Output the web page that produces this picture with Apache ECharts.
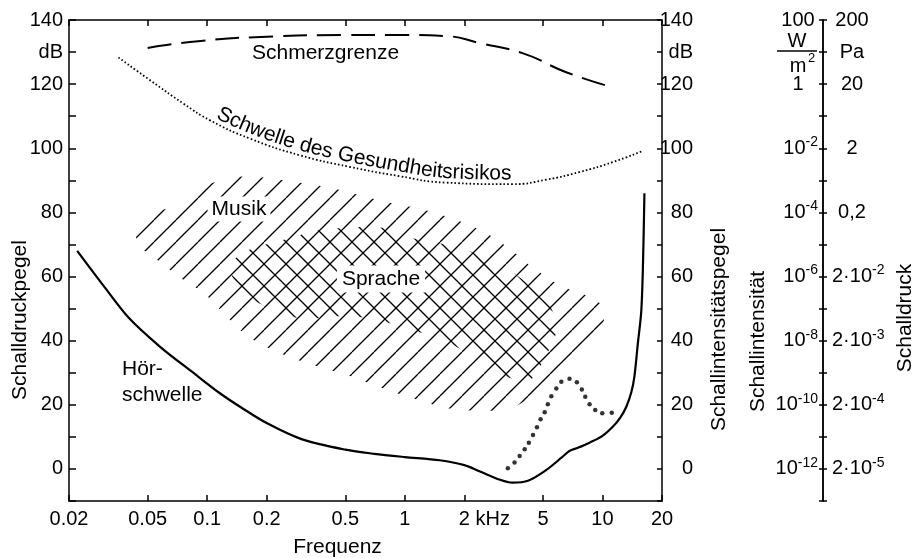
<!DOCTYPE html>
<html><head><meta charset="utf-8">
<script src="https://cdn.jsdelivr.net/npm/echarts@6/dist/echarts.min.js"></script>
<style>html,body{margin:0;padding:0;background:#fff}#c{width:914px;height:558px}</style>
</head><body><div id="c"></div>
<script>
// ---------- data ----------
const freqTicks = [0.02, 0.05, 0.1, 0.2, 0.5, 1, 2, 5, 10, 20];
const freqTickLabels = ['0.02', '0.05', '0.1', '0.2', '0.5', '1', '2 kHz', '5', '10', '20'];
const levelLabelValues = [0, 20, 40, 60, 80, 100, 120, 130, 140];
const levelLabels = ['0', '20', '40', '60', '80', '100', '120', 'dB', '140'];
const intensityLabelValues = [0, 20, 40, 60, 80, 100, 120, 140];
const intensityLabels = ['10^-12', '10^-10', '10^-8', '10^-6', '10^-4', '10^-2', '1', '100'];
const pressureLabelValues = [0, 20, 40, 60, 80, 100, 120, 130, 140];
const pressureLabels = ['2·10^-5', '2·10^-4', '2·10^-3', '2·10^-2', '0,2', '2', '20', 'Pa', '200'];

// Hörschwelle (kHz, dB)
const thresholdFreq = [0.022, 0.03, 0.04, 0.058, 0.085, 0.116, 0.15, 0.2, 0.3, 0.5, 0.7, 1, 1.5, 2, 2.4, 3, 3.5, 4.2, 5.2, 6.2, 6.8, 7.5, 8.6, 10, 11.3, 12.3, 13.2, 14, 14.5, 15.1, 15.7, 16.0, 16.3];
const thresholdLevel = [68, 57, 47.2, 38, 30, 23.6, 19, 14.3, 9.3, 6, 4.7, 3.7, 2.7, 1.2, -0.8, -3.3, -4.3, -3.7, -0.3, 3.5, 5.6, 6.6, 8.2, 10.3, 13.2, 16, 19.4, 24, 28.8, 39.2, 49, 62, 86];
// Schmerzgrenze
const painFreq = [0.05, 0.09, 0.2, 0.5, 1, 1.6, 2.4, 4, 6.5, 10.8];
const painLevel = [131.3, 133.4, 134.8, 135.3, 135.3, 135, 132.8, 129.5, 123.8, 119.3];
// Schwelle des Gesundheitsrisikos
const healthFreq = [0.0356, 0.0515, 0.076, 0.1035, 0.165, 0.295, 0.526, 0.94, 1.6, 3.5, 5.2, 7.65, 11.3, 16];
const healthLevel = [128.3, 121.2, 113.9, 108.7, 103, 97.8, 94.2, 91.3, 89.3, 88.8, 90.2, 92.6, 95.7, 99.2];
// dotted curve (individual dots)
const dotFreq = [3.32, 3.59, 3.81, 4.04, 4.24, 4.45, 4.66, 4.86, 5.10, 5.29, 5.51, 5.84, 6.19, 6.81, 7.42, 7.86, 8.18, 8.60, 9.19, 9.97, 11.14];
const dotLevel = [0.2, 2.0, 4.0, 6.1, 8.2, 10.6, 13.0, 15.5, 17.7, 20.2, 22.7, 25.1, 27.2, 28.1, 27.0, 24.8, 22.5, 20.2, 18.4, 17.4, 17.5];
// Musik area outline
const musikFreq = [0.0433, 0.0515, 0.0747, 0.090, 0.1307, 0.1707, 0.278, 0.433, 0.793, 1.218, 1.83, 2.69, 3.47, 4.43, 6.06, 9.33, 10.24, 8.80, 3.59, 2.63, 1.63, 1.085, 0.748, 0.509, 0.343, 0.2337, 0.165, 0.126, 0.0977, 0.0714, 0.0528, 0.0459];
const musikLevel = [75.1, 79.8, 82.2, 87.2, 90.7, 91.1, 89.5, 87.5, 83.3, 81.0, 77.6, 72.9, 68.2, 62.9, 57.3, 52.6, 48.0, 36.4, 19.3, 18.1, 19.0, 22.1, 25.5, 29.3, 32.4, 36.1, 40.8, 47.4, 54.5, 60.1, 66.4, 69.2];
// Sprache area outline
const spracheFreq = [0.1337, 0.161, 0.239, 0.372, 0.572, 0.748, 1.085, 1.50, 2.08, 3.47, 4.43, 5.40, 5.86, 5.10, 4.28, 3.20, 2.39, 1.63, 1.098, 0.793, 0.528, 0.343, 0.272, 0.179, 0.147, 0.1337];
const spracheLevel = [64.5, 68.2, 71.3, 74.5, 75.4, 75.4, 72.0, 70.4, 68.2, 61.4, 56.4, 51.1, 43.3, 34.6, 27.7, 29.0, 34.0, 39.6, 43.3, 45.8, 47.7, 47.0, 47.4, 52.0, 56.4, 60.1];

// ---------- helpers ----------
const FF = "'Liberation Sans', Arial, sans-serif";
const L = Math.log10;
const pairs = (fs, ls) => fs.map((f, i) => [L(f), ls[i]]);
function hatch(dir) {
  const s = 22, c = document.createElement('canvas');
  c.width = c.height = s;
  const ctx = c.getContext('2d');
  ctx.strokeStyle = '#000'; ctx.lineWidth = 1.3;
  for (let k = -1; k <= 1; k++) {
    ctx.beginPath();
    if (dir === '/') { ctx.moveTo(k * s, s); ctx.lineTo(k * s + s, 0); }
    else { ctx.moveTo(k * s, 0); ctx.lineTo(k * s + s, s); }
    ctx.stroke();
  }
  return c;
}
function areaSeries(fs, ls, dir, z) {
  const pat = { image: hatch(dir), repeat: 'repeat' };
  return {
    type: 'custom', coordinateSystem: 'cartesian2d', z, silent: true,
    data: pairs(fs, ls),
    renderItem(params, api) {
      if (params.dataIndex !== 0) return null;
      const pts = fs.map((f, i) => api.coord([L(f), ls[i]]));
      return { type: 'polygon', shape: { points: pts, smooth: 0.3 }, style: { fill: pat, stroke: null } };
    }
  };
}
const levelFmt = v => { const i = levelLabelValues.indexOf(Math.round(v)); return (i >= 0 && Math.abs(v - Math.round(v)) < 1e-6) ? levelLabels[i] : ''; };
function powRich(s) {
  const p = s.split('^');
  if (p.length === 1) return '{n|' + s + '}';
  return '{b|' + p[0] + '}{e|' + p[1] + '}';
}
const richPow = {
  n: { fontSize: 20, fontFamily: FF, color: '#000', width: 40, align: 'center' },
  b: { fontSize: 20, fontFamily: FF, color: '#000' },
  e: { fontSize: 14, fontFamily: FF, color: '#000', lineHeight: 14, padding: [0, 0, 12, 0] }
};
const axisLine = { show: true, onZero: false, lineStyle: { color: '#000', width: 1.5 } };
const tickStyle = { color: '#000', width: 1.5 };
const lblBase = { color: '#000', fontSize: 20, fontFamily: FF };

const xCommon = {
  type: 'value', min: L(0.02), max: L(20), splitLine: { show: false }, axisLine
};
const yCommon = { type: 'value', min: -10, max: 140, interval: 10, splitLine: { show: false }, axisLine };

const chart = echarts.init(document.getElementById('c'));
chart.setOption({
  animation: false,
  backgroundColor: '#fff',
  grid: { left: 69, right: 252, top: 20, bottom: 57 },
  xAxis: [
    Object.assign({}, xCommon, {
      position: 'bottom',
      axisTick: { show: true, inside: true, length: 6, customValues: freqTicks.map(L), lineStyle: tickStyle },
      axisLabel: Object.assign({}, lblBase, {
        margin: 8, customValues: freqTicks.map(L), showMinLabel: true, showMaxLabel: true,
        formatter: v => {
          const i = freqTicks.findIndex(t => Math.abs(L(t) - v) < 1e-6);
          if (i < 0) return '';
          const t = freqTickLabels[i];
          return t.indexOf('kHz') >= 0 ? '{k|' + t + '}' : t;
        },
        rich: { k: { fontSize: 20, fontFamily: FF, color: '#000', padding: [0, 0, 0, 40] } }
      })
    }),
    Object.assign({}, xCommon, {
      position: 'top',
      axisTick: { show: true, inside: true, length: 6, customValues: freqTicks.map(L), lineStyle: tickStyle },
      axisLabel: { show: false }
    })
  ],
  yAxis: [
    Object.assign({}, yCommon, {
      position: 'left',
      axisTick: { show: true, inside: true, length: 7, lineStyle: tickStyle },
      axisLabel: Object.assign({}, lblBase, { margin: 6, formatter: levelFmt })
    }),
    Object.assign({}, yCommon, {
      position: 'right',
      axisTick: { show: true, inside: true, length: 5, lineStyle: tickStyle },
      axisLabel: Object.assign({}, lblBase, { margin: 31, align: 'right', formatter: levelFmt })
    }),
    Object.assign({}, yCommon, {
      position: 'right', offset: 161,
      axisTick: { show: true, inside: false, length: 4, lineStyle: tickStyle },
      axisLabel: Object.assign({}, lblBase, {
        margin: 9, align: 'left', rich: richPow,
        formatter: v => { const i = pressureLabelValues.indexOf(Math.round(v)); return i >= 0 ? powRich(pressureLabels[i]) : ''; }
      })
    }),
    Object.assign({}, yCommon, {
      position: 'right', offset: 161,
      axisTick: { show: true, inside: true, length: 4, lineStyle: tickStyle },
      axisLabel: Object.assign({}, lblBase, {
        inside: true, margin: 5, align: 'right', rich: richPow,
        formatter: v => { const i = intensityLabelValues.indexOf(Math.round(v)); return i >= 0 ? powRich(intensityLabels[i]) : ''; }
      })
    })
  ],
  series: [
    areaSeries(musikFreq, musikLevel, '/', 1),
    areaSeries(spracheFreq, spracheLevel, '\\', 2),
    { type: 'line', data: pairs(thresholdFreq, thresholdLevel), smooth: 0.3, symbol: 'none', z: 5,
      lineStyle: { color: '#000', width: 2.2 } },
    { type: 'line', data: pairs(painFreq, painLevel), smooth: true, symbol: 'none', z: 5,
      lineStyle: { color: '#000', width: 2, type: [24, 10] } },
    { type: 'line', data: pairs(healthFreq, healthLevel), smooth: true, symbol: 'none', z: 5,
      lineStyle: { color: '#000', width: 1.8, type: [1.6, 2.2] } },
    { type: 'scatter', data: pairs(dotFreq, dotLevel), symbol: 'circle', symbolSize: 4.5, z: 5,
      itemStyle: { color: '#000' } }
  ]
});

// ---------- annotations ----------
const FONT20 = '20px ' + FF;
const FONT21 = '21px ' + FF;
function txt(x, y, text, font, opts) {
  return Object.assign({
    type: 'text', x, y, silent: true, z: 100,
    style: Object.assign({ text, font, fill: '#000', align: 'center', verticalAlign: 'middle',
      textAlign: 'center', textVerticalAlign: 'middle' }, (opts && opts.style) || {})
  }, opts && opts.rotation !== undefined ? { rotation: opts.rotation } : {});
}
function curvedText(text, fs, ls, startX, font) {
  const raw = fs.map((f, i) => chart.convertToPixel({ xAxisIndex: 0, yAxisIndex: 0 }, [L(f), ls[i]]));
  const pts = [];
  for (let i = 0; i < raw.length - 1; i++) {
    const p0 = raw[Math.max(i - 1, 0)], p1 = raw[i], p2 = raw[i + 1], p3 = raw[Math.min(i + 2, raw.length - 1)];
    for (let k = 0; k < 10; k++) {
      const t = k / 10, t2 = t * t, t3 = t2 * t;
      const cr = d => 0.5 * (2 * p1[d] + (-p0[d] + p2[d]) * t + (2 * p0[d] - 5 * p1[d] + 4 * p2[d] - p3[d]) * t2 + (-p0[d] + 3 * p1[d] - 3 * p2[d] + p3[d]) * t3);
      pts.push([cr(0), cr(1)]);
    }
  }
  pts.push(raw[raw.length - 1]);
  const cum = [0];
  for (let i = 1; i < pts.length; i++) cum.push(cum[i - 1] + Math.hypot(pts[i][0] - pts[i - 1][0], pts[i][1] - pts[i - 1][1]));
  function at(s) {
    let j = 0;
    while (j < pts.length - 2 && cum[j + 1] < s) j++;
    const a = pts[j], b = pts[j + 1], seg = cum[j + 1] - cum[j] || 1, t = (s - cum[j]) / seg;
    return { x: a[0] + (b[0] - a[0]) * t, y: a[1] + (b[1] - a[1]) * t, ang: Math.atan2(b[1] - a[1], b[0] - a[0]) };
  }
  let j0 = 0;
  while (j0 < pts.length - 1 && pts[j0][0] < startX) j0++;
  let s = cum[j0];
  const ctx = document.createElement('canvas').getContext('2d');
  ctx.font = font;
  const out = [];
  for (const ch of text) {
    const w = ctx.measureText(ch).width;
    const p = at(s + w / 2);
    out.push({
      type: 'text', x: p.x, y: p.y, rotation: -p.ang, silent: true, z: 100,
      style: { text: ch, font, fill: '#000', align: 'center', verticalAlign: 'bottom', textAlign: 'center', textVerticalAlign: 'bottom' }
    });
    s += w;
  }
  return out;
}

const y130 = chart.convertToPixel({ yAxisIndex: 0 }, 130);
const graphics = [
  txt(20, 320, 'Schalldruckpegel', FONT21, { rotation: Math.PI / 2 }),
  txt(337.5, 547, 'Frequenz', FONT21),
  txt(719, 329.5, 'Schallintensitätspegel', FONT21, { rotation: Math.PI / 2 }),
  txt(758.5, 341.5, 'Schallintensität', FONT21, { rotation: Math.PI / 2 }),
  txt(905, 318, 'Schalldruck', FONT21, { rotation: Math.PI / 2 }),
  txt(252, 53, 'Schmerzgrenze', FONT21, { style: { align: 'left', textAlign: 'left' } }),
  txt(239, 209, 'Musik', FONT21, { style: { backgroundColor: '#fff', padding: [2, 4] } }),
  txt(381, 279, 'Sprache', FONT21, { style: { backgroundColor: '#fff', padding: [3, 5] } }),
  txt(122, 369.5, 'Hör-', FONT21, { style: { align: 'left', textAlign: 'left' } }),
  txt(122, 395, 'schwelle', FONT21, { style: { align: 'left', textAlign: 'left' } }),
  // W / m² fraction on the intensity scale
  txt(797, y130 - 11, 'W', FONT20),
  { type: 'line', silent: true, z: 100, shape: { x1: 777, y1: y130 - 1, x2: 817, y2: y130 - 1 }, style: { stroke: '#000', lineWidth: 1.5 } },
  txt(798, y130 + 14, 'm', FONT20),
  txt(811.5, y130 + 6, '2', '13px ' + FF)
].concat(curvedText('Schwelle des Gesundheitsrisikos', healthFreq, healthLevel, 212, FONT21));
chart.setOption({ graphic: graphics });
</script>
</body></html>
